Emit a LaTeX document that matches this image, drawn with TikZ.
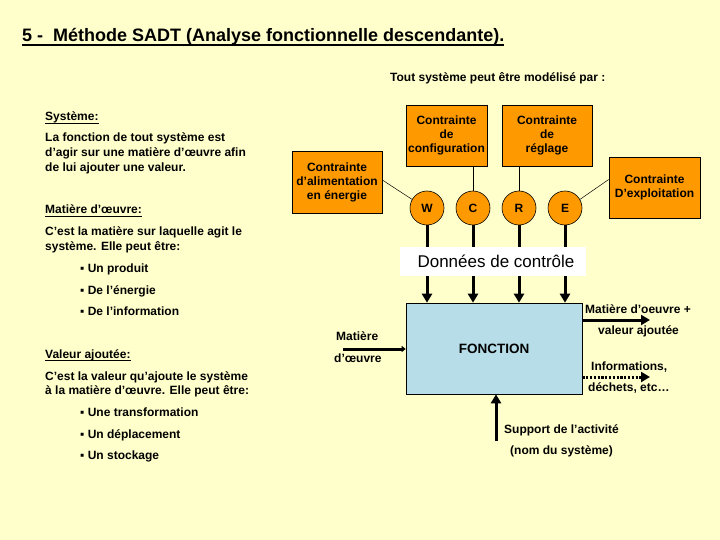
\documentclass[tikz,border=0pt]{standalone}
\usepackage{fontspec}
\setmainfont{Liberation Sans}
\usetikzlibrary{arrows.meta}
\definecolor{bg}{HTML}{FFFFCC}
\definecolor{orng}{HTML}{FF9900}
\definecolor{fblue}{HTML}{B7DDE8}
\begin{document}
\begin{tikzpicture}[x=1pt,y=-1pt,
  txt/.style={font=\bfseries\fontsize{12}{14}\selectfont, inner sep=0pt, anchor=base west},
  obox/.style={draw=black, line width=0.6pt, fill=orng, font=\bfseries\fontsize{12}{14}\selectfont, align=center, inner sep=1pt},
  circ/.style={circle, draw=black, line width=0.6pt, fill=orng, minimum size=34pt, inner sep=0pt, font=\bfseries\fontsize{12}{14}\selectfont},
  conn/.style={draw=black, line width=0.5pt},
  bigarrow/.style={line width=3pt, -{Triangle[length=9pt,width=10pt]}},
  uline/.style={line width=0.9pt}
]
\fill[bg] (0,0) rectangle (720,540);
\useasboundingbox (0,0) rectangle (720,540);

% title
\node[txt, font=\bfseries\fontsize{18}{21}\selectfont] (title) at (22,42) {5 -\ \ Méthode SADT (Analyse fonctionnelle descendante).};
\draw[line width=1.3pt] ([yshift=-3pt]title.base west) -- ([yshift=-3pt]title.base east);
\node[txt] (tout) at (390,82) {Tout système peut être modélisé par :};

% left column
\node[txt] (sys) at (45,121) {Système:};
\draw[uline] ([yshift=-2pt]sys.base west) -- ([yshift=-2pt]sys.base east);
\node[txt] (s1) at (45,142) {La fonction de tout système est};
\node[txt] (s2) at (45,157) {d’agir sur une matière d’œuvre afin};
\node[txt] (s3) at (45,172) {de lui ajouter une valeur.};
\node[txt] (mat) at (45,214) {Matière d’œuvre:};
\draw[uline] ([yshift=-2pt]mat.base west) -- ([yshift=-2pt]mat.base east);
\node[txt] (m1) at (45,236) {C’est la matière sur laquelle agit le};
\node[txt] (m2) at (45,251) {système. Elle peut être:};
\node[txt] (m3) at (80,272) {▪ Un produit};
\node[txt] (m4) at (80,294) {▪ De l’énergie};
\node[txt] (m5) at (80,315) {▪ De l’information};
\node[txt] (val) at (45,358) {Valeur ajoutée:};
\draw[uline] ([yshift=-2pt]val.base west) -- ([yshift=-2pt]val.base east);
\node[txt] (v1) at (45,380) {C’est la valeur qu’ajoute le système};
\node[txt] (v2) at (45,394) {à la matière d’œuvre. Elle peut être:};
\node[txt] (v3) at (80,416) {▪ Une transformation};
\node[txt] (v4) at (80,438) {▪ Un déplacement};
\node[txt] (v5) at (80,459) {▪ Un stockage};

% constraint boxes
\node[obox, minimum width=90pt, minimum height=62pt] (alim) at (337,182) {Contrainte\\d’alimentation\\en énergie};
\node[obox, minimum width=81pt, minimum height=61pt] (conf) at (446.5,135.5) {Contrainte\\de\\configuration};
\node[obox, minimum width=90pt, minimum height=61pt] (regl) at (547,135.5) {Contrainte\\de\\réglage};
\node[obox, minimum width=91pt, minimum height=61pt] (expl) at (654.5,187.5) {Contrainte\\D’exploitation};

% circles
\node[circ] (W) at (427,208) {W};
\node[circ] (C) at (473,208) {C};
\node[circ] (R) at (519,208) {R};
\node[circ] (E) at (565,208) {E};

\draw[conn] (W.150) -- ([yshift=2pt]alim.east);
\draw[conn] (C.north) -- (C.north |- conf.south);
\draw[conn] (R.north) -- (R.north |- regl.south);
\draw[conn] (E.30) -- ([yshift=8pt]expl.west);

% function box
\node[draw=black, line width=0.6pt, fill=fblue, minimum width=176pt, minimum height=91pt, font=\bfseries\fontsize{13.5}{16}\selectfont] (F) at (494,348.5) {FONCTION};

% control arrows
\draw[bigarrow] (W.south) -- (W.south |- F.north);
\draw[bigarrow] (C.south) -- (C.south |- F.north);
\draw[bigarrow] (R.south) -- (R.south |- F.north);
\draw[bigarrow] (E.south) -- (E.south |- F.north);

\node[fill=white, minimum width=186pt, minimum height=29pt, inner sep=0pt, font=\fontsize{17}{20}\selectfont] (don) at (493,261.5) {\hspace*{6pt}Données de contrôle};

% input
\coordinate (in) at (343,349);
\draw[line width=3pt, -{Triangle[length=4pt,width=6pt]}] (in) -- (in -| F.west);
\node[txt] (in1) at (336,340) {Matière};
\node[txt] (in2) at (334,362) {d’œuvre};

% outputs
\coordinate (o1) at (650,320);
\draw[bigarrow] (o1 -| F.east) -- (o1);
\node[txt] (o1a) at (585,313) {Matière d’oeuvre +};
\node[txt] (o1b) at (598,334) {valeur ajoutée};
\coordinate (o2) at (650,377);
\draw[line width=3pt, dash pattern=on 2.2pt off 1.6pt, -{Triangle[length=9pt,width=10pt]}] (o2 -| F.east) -- (o2);
\node[txt] (o2a) at (591,370) {Informations,};
\node[txt] (o2b) at (588,391) {déchets, etc…};

% support
\coordinate (sup) at (496,441);
\draw[bigarrow] (sup) -- (sup |- F.south);
\node[txt] (su1) at (504,433) {Support de l’activité};
\node[txt] (su2) at (510,454) {(nom du système)};
\end{tikzpicture}
\end{document}
